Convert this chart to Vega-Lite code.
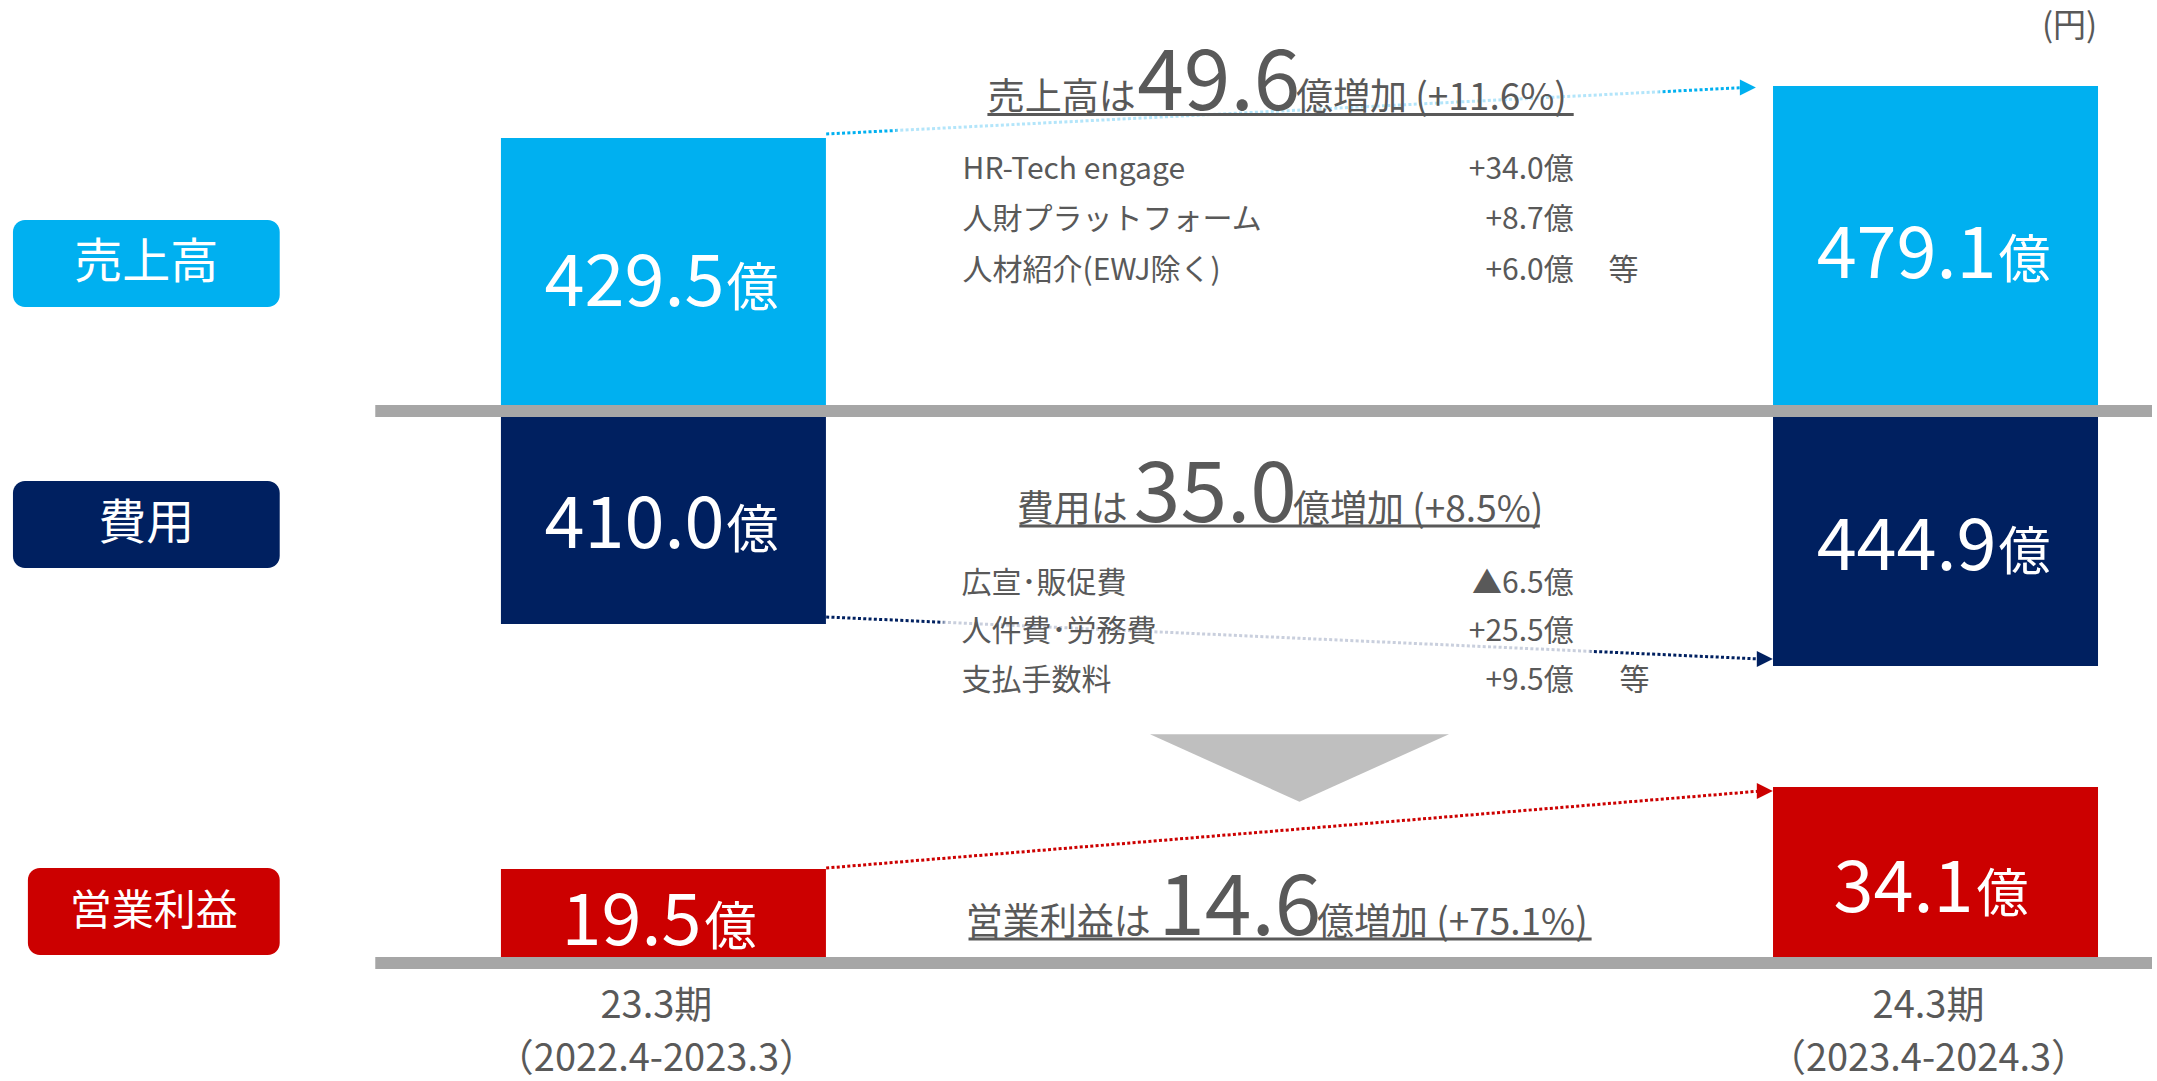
{
  "$schema": "https://vega.github.io/schema/vega-lite/v6.json",
  "width": 2157,
  "height": 1081,
  "autosize": "none",
  "padding": 0,
  "background": "#FFFFFF",
  "config": {"view": {"stroke": null}, "font": "Noto Sans CJK JP", "axis": {"disable": true}},
  "datasets": {
    "bars": [
      {"metric": "売上高", "period": "23.3期", "range": "（2022.4-2023.3）", "fy": 2023, "value": 429.5},
      {"metric": "売上高", "period": "24.3期", "range": "（2023.4-2024.3）", "fy": 2024, "value": 479.1},
      {"metric": "費用", "period": "23.3期", "range": "（2022.4-2023.3）", "fy": 2023, "value": 410.0},
      {"metric": "費用", "period": "24.3期", "range": "（2023.4-2024.3）", "fy": 2024, "value": 444.9},
      {"metric": "営業利益", "period": "23.3期", "range": "（2022.4-2023.3）", "fy": 2023, "value": 19.5},
      {"metric": "営業利益", "period": "24.3期", "range": "（2023.4-2024.3）", "fy": 2024, "value": 34.1}
    ],
    "metrics": [
      {"metric": "売上高", "lead": "売上高は", "change": 49.6, "tail": "億増加 (+11.6%)"},
      {"metric": "費用", "lead": "費用は", "change": 35.0, "tail": "億増加 (+8.5%)"},
      {"metric": "営業利益", "lead": "営業利益は", "change": 14.6, "tail": "億増加 (+75.1%)"}
    ],
    "breakdown": [
      {"metric": "売上高", "rank": 1, "item": "HR-Tech engage", "delta": "+34.0億", "note": ""},
      {"metric": "売上高", "rank": 2, "item": "人財プラットフォーム", "delta": "+8.7億", "note": ""},
      {"metric": "売上高", "rank": 3, "item": "人材紹介(EWJ除く)", "delta": "+6.0億", "note": "等"},
      {"metric": "費用", "rank": 1, "item": "広宣･販促費", "delta": "▲6.5億", "note": ""},
      {"metric": "費用", "rank": 2, "item": "人件費･労務費", "delta": "+25.5億", "note": ""},
      {"metric": "費用", "rank": 3, "item": "支払手数料", "delta": "+9.5億", "note": "等"}
    ]
  },
  "resolve": {"scale": {"y": "independent"}},
  "layer": [
    {
      "data": {"name": "metrics"},
      "transform": [{"filter": "datum.metric === '売上高'"}],
      "layer": [
        {"mark": {"type": "rect", "color": "#00B0F0", "cornerRadius": 12},
         "encoding": {
           "x": {"datum": 2022.48865, "type": "quantitative", "scale": {"domain": [2022.48239, 2024.17018], "nice": false, "zero": false}},
           "x2": {"datum": 2022.69835},
           "y": {"datum": 351.285, "type": "quantitative", "scale": {"domain": [-469.977, 561.131], "nice": false, "zero": false}},
           "y2": {"datum": 268.3}}},
        {"mark": {"type": "text", "color": "#FFFFFF", "fontSize": 48, "align": "center", "baseline": "middle"},
         "encoding": {
           "x": {"datum": 2022.5935, "type": "quantitative", "scale": {"domain": [2022.48239, 2024.17018], "nice": false, "zero": false}},
           "y": {"datum": 309.315, "type": "quantitative", "scale": {"domain": [-469.977, 561.131], "nice": false, "zero": false}},
           "text": {"field": "metric"}}},
        {"data": {"name": "bars"},
         "transform": [{"filter": "datum.metric === '売上高'"}],
         "mark": {"type": "bar", "color": "#00B0F0", "width": 325, "orient": "vertical"},
         "encoding": {
           "x": {"field": "fy", "type": "quantitative", "scale": {"domain": [2022.48239, 2024.17018], "nice": false, "zero": false}},
           "y": {"field": "value", "type": "quantitative", "scale": {"domain": [-469.977, 561.131], "nice": false, "zero": false}},
           "y2": {"datum": 174.823}}},
        {"mark": {"type": "rule", "strokeWidth": 3, "strokeDash": [3, 2.3], "strokeCap": "butt",
                  "stroke": {"gradient": "linear", "stops": [
                    {"offset": 0, "color": "#00B0F0"}, {"offset": 0.073, "color": "#00B0F0"},
                    {"offset": 0.08, "color": "#B3E5FA"}, {"offset": 0.905, "color": "#B3E5FA"},
                    {"offset": 0.912, "color": "#00B0F0"}, {"offset": 1, "color": "#00B0F0"}]}},
         "encoding": {
           "x": {"datum": 2023.12793, "type": "quantitative", "scale": {"domain": [2022.48239, 2024.17018], "nice": false, "zero": false}},
           "x2": {"datum": 2023.85015},
           "y": {"datum": 433.315, "type": "quantitative", "scale": {"domain": [-469.977, 561.131], "nice": false, "zero": false}},
           "y2": {"datum": 477.669}}},
        {"mark": {"type": "point", "shape": "M-1,-1L1,0L-1,1Z", "size": 256, "filled": true, "color": "#00B0F0", "opacity": 1, "strokeWidth": 0},
         "encoding": {
           "x": {"datum": 2023.8525, "type": "quantitative", "scale": {"domain": [2022.48239, 2024.17018], "nice": false, "zero": false}},
           "y": {"datum": 477.669, "type": "quantitative", "scale": {"domain": [-469.977, 561.131], "nice": false, "zero": false}}}},
        {"mark": {"type": "text", "color": "#595959", "fontSize": 37, "align": "right", "baseline": "alphabetic"},
         "encoding": {
           "x": {"datum": 2023.37128, "type": "quantitative", "scale": {"domain": [2022.48239, 2024.17018], "nice": false, "zero": false}},
           "y": {"datum": 456.208, "type": "quantitative", "scale": {"domain": [-469.977, 561.131], "nice": false, "zero": false}},
           "text": {"field": "lead"}}},
        {"mark": {"type": "text", "color": "#595959", "fontSize": 84, "align": "center", "baseline": "alphabetic"},
         "encoding": {
           "x": {"datum": 2023.43662, "type": "quantitative", "scale": {"domain": [2022.48239, 2024.17018], "nice": false, "zero": false}},
           "y": {"datum": 456.208, "type": "quantitative", "scale": {"domain": [-469.977, 561.131], "nice": false, "zero": false}},
           "text": {"field": "change", "type": "quantitative", "format": ".1f"}}},
        {"mark": {"type": "text", "color": "#595959", "fontSize": 37, "align": "left", "baseline": "alphabetic"},
         "encoding": {
           "x": {"datum": 2023.49726, "type": "quantitative", "scale": {"domain": [2022.48239, 2024.17018], "nice": false, "zero": false}},
           "y": {"datum": 456.208, "type": "quantitative", "scale": {"domain": [-469.977, 561.131], "nice": false, "zero": false}},
           "text": {"field": "tail"}}},
        {"mark": {"type": "rule", "color": "#595959", "strokeWidth": 3},
         "encoding": {
           "x": {"datum": 2023.25469, "type": "quantitative", "scale": {"domain": [2022.48239, 2024.17018], "nice": false, "zero": false}},
           "x2": {"datum": 2023.71557},
           "y": {"datum": 451.915, "type": "quantitative", "scale": {"domain": [-469.977, 561.131], "nice": false, "zero": false}}}},
        {"mark": {"type": "rule", "color": "#A6A6A6", "strokeWidth": 12, "strokeCap": "butt"},
         "encoding": {
           "x": {"datum": 2022.77347, "type": "quantitative", "scale": {"domain": [2022.48239, 2024.17018], "nice": false, "zero": false}},
           "x2": {"datum": 2024.17018},
           "y": {"datum": 169.1, "type": "quantitative", "scale": {"domain": [-469.977, 561.131], "nice": false, "zero": false}}}}
      ]
    },
    {
      "data": {"name": "metrics"},
      "transform": [{"filter": "datum.metric === '費用'"}],
      "layer": [
        {"mark": {"type": "rect", "color": "#002060", "cornerRadius": 12},
         "encoding": {
           "x": {"datum": 2022.48865, "type": "quantitative", "scale": {"domain": [2022.48239, 2024.17018], "nice": false, "zero": false}},
           "x2": {"datum": 2022.69835},
           "y": {"datum": 291.174, "type": "quantitative", "scale": {"domain": [-108.514, 789.745], "reverse": true, "nice": false, "zero": false}},
           "y2": {"datum": 363.467}}},
        {"mark": {"type": "text", "color": "#FFFFFF", "fontSize": 48, "align": "center", "baseline": "middle"},
         "encoding": {
           "x": {"datum": 2022.5935, "type": "quantitative", "scale": {"domain": [2022.48239, 2024.17018], "nice": false, "zero": false}},
           "y": {"datum": 327.736, "type": "quantitative", "scale": {"domain": [-108.514, 789.745], "reverse": true, "nice": false, "zero": false}},
           "text": {"field": "metric"}}},
        {"data": {"name": "bars"},
         "transform": [{"filter": "datum.metric === '費用'"}],
         "mark": {"type": "bar", "color": "#002060", "width": 325, "orient": "vertical"},
         "encoding": {
           "x": {"field": "fy", "type": "quantitative", "scale": {"domain": [2022.48239, 2024.17018], "nice": false, "zero": false}},
           "y": {"field": "value", "type": "quantitative", "scale": {"domain": [-108.514, 789.745], "reverse": true, "nice": false, "zero": false}},
           "y2": {"datum": 237.993}}},
        {"mark": {"type": "rule", "strokeWidth": 3, "strokeDash": [3, 2.3], "strokeCap": "butt",
                  "stroke": {"gradient": "linear", "stops": [
                    {"offset": 0, "color": "#002060"}, {"offset": 0.122, "color": "#002060"},
                    {"offset": 0.128, "color": "#C9CFDD"}, {"offset": 0.816, "color": "#C9CFDD"},
                    {"offset": 0.822, "color": "#002060"}, {"offset": 1, "color": "#002060"}]}},
         "encoding": {
           "x": {"datum": 2023.12793, "type": "quantitative", "scale": {"domain": [2022.48239, 2024.17018], "nice": false, "zero": false}},
           "x2": {"datum": 2023.86267},
           "y": {"datum": 404.183, "type": "quantitative", "scale": {"domain": [-108.514, 789.745], "reverse": true, "nice": false, "zero": false}},
           "y2": {"datum": 439.083}}},
        {"mark": {"type": "point", "shape": "M-1,-1L1,0L-1,1Z", "size": 256, "filled": true, "color": "#002060", "opacity": 1, "strokeWidth": 0},
         "encoding": {
           "x": {"datum": 2023.8658, "type": "quantitative", "scale": {"domain": [2022.48239, 2024.17018], "nice": false, "zero": false}},
           "y": {"datum": 439.083, "type": "quantitative", "scale": {"domain": [-108.514, 789.745], "reverse": true, "nice": false, "zero": false}}}},
        {"mark": {"type": "text", "color": "#595959", "fontSize": 37, "align": "right", "baseline": "alphabetic"},
         "encoding": {
           "x": {"datum": 2023.36502, "type": "quantitative", "scale": {"domain": [2022.48239, 2024.17018], "nice": false, "zero": false}},
           "y": {"datum": 324.994, "type": "quantitative", "scale": {"domain": [-108.514, 789.745], "reverse": true, "nice": false, "zero": false}},
           "text": {"field": "lead"}}},
        {"mark": {"type": "text", "color": "#595959", "fontSize": 84, "align": "center", "baseline": "alphabetic"},
         "encoding": {
           "x": {"datum": 2023.43388, "type": "quantitative", "scale": {"domain": [2022.48239, 2024.17018], "nice": false, "zero": false}},
           "y": {"datum": 324.994, "type": "quantitative", "scale": {"domain": [-108.514, 789.745], "reverse": true, "nice": false, "zero": false}},
           "text": {"field": "change", "type": "quantitative", "format": ".1f"}}},
        {"mark": {"type": "text", "color": "#595959", "fontSize": 37, "align": "left", "baseline": "alphabetic"},
         "encoding": {
           "x": {"datum": 2023.49491, "type": "quantitative", "scale": {"domain": [2022.48239, 2024.17018], "nice": false, "zero": false}},
           "y": {"datum": 324.994, "type": "quantitative", "scale": {"domain": [-108.514, 789.745], "reverse": true, "nice": false, "zero": false}},
           "text": {"field": "tail"}}},
        {"mark": {"type": "rule", "color": "#595959", "strokeWidth": 3},
         "encoding": {
           "x": {"datum": 2023.27973, "type": "quantitative", "scale": {"domain": [2022.48239, 2024.17018], "nice": false, "zero": false}},
           "x2": {"datum": 2023.68896},
           "y": {"datum": 328.567, "type": "quantitative", "scale": {"domain": [-108.514, 789.745], "reverse": true, "nice": false, "zero": false}}}},
        {"mark": {"type": "point", "shape": "M-1,-0.2254L1,-0.2254L0,0.2254Z", "size": 89401, "filled": true, "color": "#BFBFBF", "opacity": 1, "strokeWidth": 0},
         "encoding": {
           "x": {"datum": 2023.5, "type": "quantitative", "scale": {"domain": [2022.48239, 2024.17018], "nice": false, "zero": false}},
           "y": {"datum": 529.657, "type": "quantitative", "scale": {"domain": [-108.514, 789.745], "reverse": true, "nice": false, "zero": false}}}}
      ]
    },
    {
      "data": {"name": "metrics"},
      "transform": [{"filter": "datum.metric === '営業利益'"}],
      "layer": [
        {"mark": {"type": "rect", "color": "#CC0000", "cornerRadius": 12},
         "encoding": {
           "x": {"datum": 2022.50039, "type": "quantitative", "scale": {"domain": [2022.48239, 2024.17018], "nice": false, "zero": false}},
           "x2": {"datum": 2022.69835},
           "y": {"datum": 19.678, "type": "quantitative", "scale": {"domain": [-18.246, 174.225], "nice": false, "zero": false}},
           "y2": {"datum": 4.188}}},
        {"mark": {"type": "text", "color": "#FFFFFF", "fontSize": 42, "align": "center", "baseline": "middle"},
         "encoding": {
           "x": {"datum": 2022.59937, "type": "quantitative", "scale": {"domain": [2022.48239, 2024.17018], "nice": false, "zero": false}},
           "y": {"datum": 11.844, "type": "quantitative", "scale": {"domain": [-18.246, 174.225], "nice": false, "zero": false}},
           "text": {"field": "metric"}}},
        {"data": {"name": "bars"},
         "transform": [{"filter": "datum.metric === '営業利益'"}],
         "mark": {"type": "bar", "color": "#CC0000", "width": 325, "orient": "vertical"},
         "encoding": {
           "x": {"field": "fy", "type": "quantitative", "scale": {"domain": [2022.48239, 2024.17018], "nice": false, "zero": false}},
           "y": {"field": "value", "type": "quantitative", "scale": {"domain": [-18.246, 174.225], "nice": false, "zero": false}},
           "y2": {"datum": 3.832}}},
        {"mark": {"type": "rule", "strokeWidth": 3, "strokeDash": [3, 2.3], "strokeCap": "butt", "stroke": "#CC0000"},
         "encoding": {
           "x": {"datum": 2023.12793, "type": "quantitative", "scale": {"domain": [2022.48239, 2024.17018], "nice": false, "zero": false}},
           "x2": {"datum": 2023.86267},
           "y": {"datum": 19.678, "type": "quantitative", "scale": {"domain": [-18.246, 174.225], "nice": false, "zero": false}},
           "y2": {"datum": 33.388}}},
        {"mark": {"type": "point", "shape": "M-1,-1L1,0L-1,1Z", "size": 256, "filled": true, "color": "#CC0000", "opacity": 1, "strokeWidth": 0},
         "encoding": {
           "x": {"datum": 2023.8658, "type": "quantitative", "scale": {"domain": [2022.48239, 2024.17018], "nice": false, "zero": false}},
           "y": {"datum": 33.388, "type": "quantitative", "scale": {"domain": [-18.246, 174.225], "nice": false, "zero": false}}}},
        {"mark": {"type": "text", "color": "#595959", "fontSize": 37, "align": "right", "baseline": "alphabetic"},
         "encoding": {
           "x": {"datum": 2023.38302, "type": "quantitative", "scale": {"domain": [2022.48239, 2024.17018], "nice": false, "zero": false}},
           "y": {"datum": 7.749, "type": "quantitative", "scale": {"domain": [-18.246, 174.225], "nice": false, "zero": false}},
           "text": {"field": "lead"}}},
        {"mark": {"type": "text", "color": "#595959", "fontSize": 84, "align": "center", "baseline": "alphabetic"},
         "encoding": {
           "x": {"datum": 2023.45305, "type": "quantitative", "scale": {"domain": [2022.48239, 2024.17018], "nice": false, "zero": false}},
           "y": {"datum": 7.749, "type": "quantitative", "scale": {"domain": [-18.246, 174.225], "nice": false, "zero": false}},
           "text": {"field": "change", "type": "quantitative", "format": ".1f"}}},
        {"mark": {"type": "text", "color": "#595959", "fontSize": 37, "align": "left", "baseline": "alphabetic"},
         "encoding": {
           "x": {"datum": 2023.51369, "type": "quantitative", "scale": {"domain": [2022.48239, 2024.17018], "nice": false, "zero": false}},
           "y": {"datum": 7.749, "type": "quantitative", "scale": {"domain": [-18.246, 174.225], "nice": false, "zero": false}},
           "text": {"field": "tail"}}},
        {"mark": {"type": "rule", "color": "#595959", "strokeWidth": 3},
         "encoding": {
           "x": {"datum": 2023.23982, "type": "quantitative", "scale": {"domain": [2022.48239, 2024.17018], "nice": false, "zero": false}},
           "x2": {"datum": 2023.72965},
           "y": {"datum": 7.037, "type": "quantitative", "scale": {"domain": [-18.246, 174.225], "nice": false, "zero": false}}}},
        {"mark": {"type": "rule", "color": "#A6A6A6", "strokeWidth": 12, "strokeCap": "butt"},
         "encoding": {
           "x": {"datum": 2022.77347, "type": "quantitative", "scale": {"domain": [2022.48239, 2024.17018], "nice": false, "zero": false}},
           "x2": {"datum": 2024.17018},
           "y": {"datum": 2.764, "type": "quantitative", "scale": {"domain": [-18.246, 174.225], "nice": false, "zero": false}}}},
        {"data": {"name": "bars"},
         "transform": [{"filter": "datum.metric === '営業利益'"}],
         "mark": {"type": "text", "color": "#595959", "fontSize": 38, "align": "center", "baseline": "middle", "dx": -7},
         "encoding": {
           "x": {"field": "fy", "type": "quantitative", "scale": {"domain": [2022.48239, 2024.17018], "nice": false, "zero": false}},
           "y": {"datum": -5.07, "type": "quantitative", "scale": {"domain": [-18.246, 174.225], "nice": false, "zero": false}},
           "text": {"field": "period"}}},
        {"data": {"name": "bars"},
         "transform": [{"filter": "datum.metric === '営業利益'"}],
         "mark": {"type": "text", "color": "#595959", "fontSize": 38, "align": "center", "baseline": "middle", "dx": -7},
         "encoding": {
           "x": {"field": "fy", "type": "quantitative", "scale": {"domain": [2022.48239, 2024.17018], "nice": false, "zero": false}},
           "y": {"datum": -14.507, "type": "quantitative", "scale": {"domain": [-18.246, 174.225], "nice": false, "zero": false}},
           "text": {"field": "range"}}}
      ]
    },
    {
      "data": {"name": "bars"},
      "transform": [{"filter": "datum.metric === '売上高'"}],
      "layer": [
        {"mark": {"type": "text", "color": "#FFFFFF", "fontSize": 72, "align": "right", "baseline": "alphabetic", "dx": 61},
         "encoding": {
           "x": {"field": "fy", "type": "quantitative", "scale": {"domain": [2022.48239, 2024.17018], "nice": false, "zero": false}},
           "y": {"field": "value", "type": "quantitative", "scale": {"domain": [-958.22, 977.43], "nice": false, "zero": false}},
           "text": {"field": "value", "type": "quantitative", "format": ".1f"}}},
        {"mark": {"type": "text", "color": "#FFFFFF", "fontSize": 52, "align": "left", "baseline": "alphabetic", "dx": 63},
         "encoding": {
           "x": {"field": "fy", "type": "quantitative", "scale": {"domain": [2022.48239, 2024.17018], "nice": false, "zero": false}},
           "y": {"field": "value", "type": "quantitative", "scale": {"domain": [-958.22, 977.43], "nice": false, "zero": false}},
           "text": {"value": "億"}}}
      ]
    },
    {
      "data": {"name": "bars"},
      "transform": [{"filter": "datum.metric === '費用'"}],
      "layer": [
        {"mark": {"type": "text", "color": "#FFFFFF", "fontSize": 72, "align": "right", "baseline": "alphabetic", "dx": 61},
         "encoding": {
           "x": {"field": "fy", "type": "quantitative", "scale": {"domain": [2022.48239, 2024.17018], "nice": false, "zero": false}},
           "y": {"field": "value", "type": "quantitative", "scale": {"domain": [-447.2, 1244.6], "reverse": true, "nice": false, "zero": false}},
           "text": {"field": "value", "type": "quantitative", "format": ".1f"}}},
        {"mark": {"type": "text", "color": "#FFFFFF", "fontSize": 52, "align": "left", "baseline": "alphabetic", "dx": 63},
         "encoding": {
           "x": {"field": "fy", "type": "quantitative", "scale": {"domain": [2022.48239, 2024.17018], "nice": false, "zero": false}},
           "y": {"field": "value", "type": "quantitative", "scale": {"domain": [-447.2, 1244.6], "reverse": true, "nice": false, "zero": false}},
           "text": {"value": "億"}}}
      ]
    },
    {
      "data": {"name": "bars"},
      "transform": [{"filter": "datum.metric === '営業利益'"}],
      "layer": [
        {"mark": {"type": "text", "color": "#FFFFFF", "fontSize": 72, "align": "right", "baseline": "alphabetic", "dx": 38},
         "encoding": {
           "x": {"field": "fy", "type": "quantitative", "scale": {"domain": [2022.48239, 2024.17018], "nice": false, "zero": false}},
           "y": {"field": "value", "type": "quantitative", "scale": {"domain": [-40.128, 433.825], "nice": false, "zero": false}},
           "text": {"field": "value", "type": "quantitative", "format": ".1f"}}},
        {"mark": {"type": "text", "color": "#FFFFFF", "fontSize": 52, "align": "left", "baseline": "alphabetic", "dx": 41},
         "encoding": {
           "x": {"field": "fy", "type": "quantitative", "scale": {"domain": [2022.48239, 2024.17018], "nice": false, "zero": false}},
           "y": {"field": "value", "type": "quantitative", "scale": {"domain": [-40.128, 433.825], "nice": false, "zero": false}},
           "text": {"value": "億"}}}
      ]
    },
    {
      "data": {"name": "breakdown"},
      "transform": [{"filter": "datum.metric === '売上高'"}],
      "layer": [
        {"mark": {"type": "text", "color": "#595959", "fontSize": 30, "align": "left", "baseline": "middle"},
         "encoding": {
           "x": {"datum": 2023.23513, "type": "quantitative", "scale": {"domain": [2022.48239, 2024.17018], "nice": false, "zero": false}},
           "y": {"field": "rank", "type": "quantitative", "scale": {"domain": [-2.3663, 19.0396], "reverse": true, "nice": false, "zero": false}},
           "text": {"field": "item"}}},
        {"mark": {"type": "text", "color": "#595959", "fontSize": 30, "align": "right", "baseline": "middle"},
         "encoding": {
           "x": {"datum": 2023.71557, "type": "quantitative", "scale": {"domain": [2022.48239, 2024.17018], "nice": false, "zero": false}},
           "y": {"field": "rank", "type": "quantitative", "scale": {"domain": [-2.3663, 19.0396], "reverse": true, "nice": false, "zero": false}},
           "text": {"field": "delta"}}},
        {"mark": {"type": "text", "color": "#595959", "fontSize": 30, "align": "left", "baseline": "middle"},
         "encoding": {
           "x": {"datum": 2023.74295, "type": "quantitative", "scale": {"domain": [2022.48239, 2024.17018], "nice": false, "zero": false}},
           "y": {"field": "rank", "type": "quantitative", "scale": {"domain": [-2.3663, 19.0396], "reverse": true, "nice": false, "zero": false}},
           "text": {"field": "note"}}}
      ]
    },
    {
      "data": {"name": "breakdown"},
      "transform": [{"filter": "datum.metric === '費用'"}],
      "layer": [
        {"mark": {"type": "text", "color": "#595959", "fontSize": 30, "align": "left", "baseline": "middle"},
         "encoding": {
           "x": {"datum": 2023.23435, "type": "quantitative", "scale": {"domain": [2022.48239, 2024.17018], "nice": false, "zero": false}},
           "y": {"field": "rank", "type": "quantitative", "scale": {"domain": [-11.0412, 11.2474], "reverse": true, "nice": false, "zero": false}},
           "text": {"field": "item"}}},
        {"mark": {"type": "text", "color": "#595959", "fontSize": 30, "align": "right", "baseline": "middle"},
         "encoding": {
           "x": {"datum": 2023.71557, "type": "quantitative", "scale": {"domain": [2022.48239, 2024.17018], "nice": false, "zero": false}},
           "y": {"field": "rank", "type": "quantitative", "scale": {"domain": [-11.0412, 11.2474], "reverse": true, "nice": false, "zero": false}},
           "text": {"field": "delta"}}},
        {"mark": {"type": "text", "color": "#595959", "fontSize": 30, "align": "left", "baseline": "middle"},
         "encoding": {
           "x": {"datum": 2023.75156, "type": "quantitative", "scale": {"domain": [2022.48239, 2024.17018], "nice": false, "zero": false}},
           "y": {"field": "rank", "type": "quantitative", "scale": {"domain": [-11.0412, 11.2474], "reverse": true, "nice": false, "zero": false}},
           "text": {"field": "note"}}}
      ]
    },
    {
      "data": {"values": [{"unit": "(円)"}]},
      "mark": {"type": "text", "color": "#595959", "fontSize": 33, "align": "right", "baseline": "middle"},
      "encoding": {
        "x": {"datum": 2024.12715, "type": "quantitative", "scale": {"domain": [2022.48239, 2024.17018], "nice": false, "zero": false}},
        "y": {"datum": 535.377, "type": "quantitative", "scale": {"domain": [-469.977, 561.131], "nice": false, "zero": false}},
        "text": {"field": "unit"}}
    }
  ]
}
